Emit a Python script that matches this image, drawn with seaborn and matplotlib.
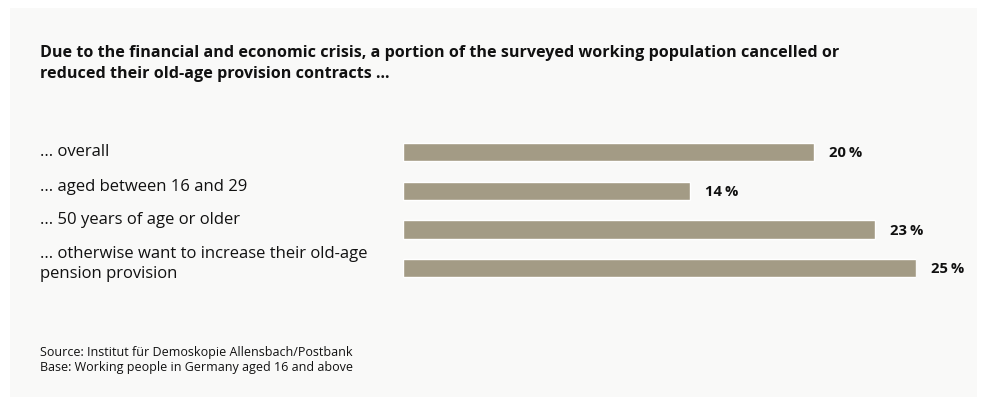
import matplotlib
matplotlib.use("Agg")
import matplotlib.pyplot as plt
from matplotlib.patches import Rectangle
import seaborn as sns
import pandas as pd

# Survey results (share of working population, in percent)
categories = [
    "... overall",
    "... aged between 16 and 29",
    "... 50 years of age or older",
    "... otherwise want to increase their old-age\npension provision",
]
values = [20, 14, 23, 25]

title = ("Due to the financial and economic crisis, a portion of the surveyed working population cancelled or\n"
         "reduced their old-age provision contracts ...")
source_lines = [
    "Source: Institut für Demoskopie Allensbach/Postbank",
    "Base: Working people in Germany aged 16 and above",
]

BAR_COLOR = "#a39b85"
PANEL_COLOR = "#f9f9f8"
TEXT_COLOR = "#111111"
FONT = ["Open Sans", "Noto Sans", "DejaVu Sans"]

sns.set_theme(style="white")
plt.rcParams["font.family"] = FONT

W, H = 987, 405
DPI = 100
fig = plt.figure(figsize=(W / DPI, H / DPI), dpi=DPI, facecolor="white")


def fx(px):
    return px / W


def fy(py):
    return 1 - py / H


# light panel behind the whole chart
fig.patches.append(Rectangle((fx(10), fy(397)), fx(967), 389 / H,
                             transform=fig.transFigure, facecolor=PANEL_COLOR,
                             edgecolor="none", zorder=-10))

# bar area: 0 % at x=403 px, 25 % at x=916 px
ax_left, ax_right = 403, 916.3
ax_top, ax_bottom = 132.6, 287.7
ax = fig.add_axes([fx(ax_left), fy(ax_bottom), fx(ax_right - ax_left), (ax_bottom - ax_top) / H])
ax.set_facecolor("none")
ax.set_zorder(5)

df = pd.DataFrame({"category": categories, "value": values})
sns.barplot(data=df, x="value", y="category", orient="h", color=BAR_COLOR,
            width=0.472, saturation=1, ax=ax)
ax.set_xlim(0, 25)
ax.set_ylim(3.5, -0.5)
ax.axis("off")

# value labels at the bar ends
for i, v in enumerate(values):
    ax.annotate(f"{v}\u2009%", xy=(v, i), xytext=(15, -1), textcoords="offset pixels",
                ha="left", va="center", fontsize=10.6, fontweight="bold",
                color=TEXT_COLOR, annotation_clip=False)

# category labels on the left
label_tops = [144, 179, 212, 246]
for lab, top in zip(categories, label_tops):
    fig.text(fx(40), fy(top), lab, ha="left", va="top", fontsize=12,
             color=TEXT_COLOR, linespacing=1.3)

# heading
fig.text(fx(40), fy(45), title, ha="left", va="top", fontsize=11.6,
         fontweight="bold", color=TEXT_COLOR, linespacing=1.4)

# source notes
fig.text(fx(40), fy(346), "\n".join(source_lines), ha="left", va="top",
         fontsize=9, color=TEXT_COLOR, linespacing=1.25)

fig.savefig("out.png", dpi=DPI, facecolor="white")
